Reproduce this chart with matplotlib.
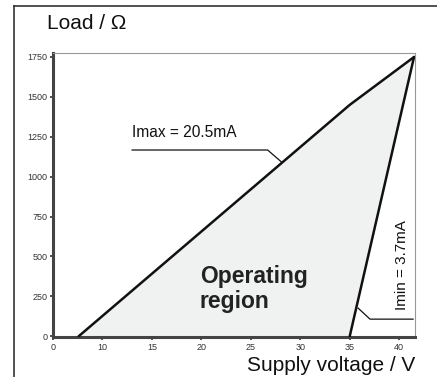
import matplotlib
matplotlib.use("Agg")
import matplotlib.pyplot as plt
from matplotlib.lines import Line2D

plt.rcParams['font.family'] = ['Liberation Sans', 'DejaVu Sans']

# Data
imax_v = [7.6, 35.0, 41.5]
imax_r = [0, 1450, 1750]
imin_v = [35.0, 41.5]
imin_r = [0, 1750]
x_ticks = [5, 10, 15, 20, 25, 30, 35, 40]
x_labels = ["0", "10", "15", "20", "25", "30", "35", "40"]
y_ticks = [0, 250, 500, 750, 1000, 1250, 1500, 1750]
y_labels = ["0", "250", "500", "750", "1000", "1250", "1500", "1750"]

fig = plt.figure(figsize=(4.37, 3.77), dpi=100)
ax = fig.add_axes([0.1213, 0.1048, 0.9497 - 0.1213, 0.8594 - 0.1048])
ax.set_xlim(5, 41.6)
ax.set_ylim(-8, 1775)

# fill operating region
poly_x = imax_v + imin_v[::-1]
poly_y = imax_r + imin_r[::-1]
ax.fill(poly_x, poly_y, color='#f0f1f1', zorder=1, lw=0)
ax.plot(imax_v, imax_r, color='#111111', lw=1.8, zorder=3, solid_capstyle='round')
ax.plot(imin_v, imin_r, color='#111111', lw=1.8, zorder=3, solid_capstyle='round')

# leader lines
ax.plot([13.0, 26.7, 28.1], [1167, 1167, 1092], color='#111111', lw=0.9, zorder=2)
ax.plot([35.85, 37.05, 41.4], [176, 107, 107], color='#111111', lw=0.9, zorder=2)

ax.text(13.0, 1250, "Imax = 20.5mA", fontsize=11.2, color='#111111', ha='left', va='baseline')
ax.text(40.25, 445, "Imin = 3.7mA", fontsize=11.0, color='#111111', rotation=90,
        ha='center', va='center')
ax.text(19.85, 332, "Operating", fontsize=16.5, fontweight='bold', color='#222222',
        ha='left', va='baseline')
ax.text(19.85, 176, "region", fontsize=16.5, fontweight='bold', color='#222222',
        ha='left', va='baseline')

# axes styling
for s in ['left', 'bottom']:
    ax.spines[s].set_linewidth(2.2)
    ax.spines[s].set_color('#444444')
for s in ['top', 'right']:
    ax.spines[s].set_linewidth(0.8)
    ax.spines[s].set_color('#999999')
ax.set_xticks(x_ticks)
ax.set_xticklabels(x_labels)
ax.set_yticks(y_ticks)
ax.set_yticklabels(y_labels)
ax.tick_params(axis='both', direction='out', length=2.5, width=1.2, color='#333333',
               labelsize=6.5, labelcolor='#333333', pad=1.5)

# outer frame (left and top)
fig.add_artist(Line2D([14 / 437, 14 / 437], [0, 1 - 6 / 377], transform=fig.transFigure,
                      color='#333333', lw=1.2))
fig.add_artist(Line2D([14 / 437, 1], [1 - 6 / 377, 1 - 6 / 377], transform=fig.transFigure,
                      color='#333333', lw=1.2))

fig.text(47 / 437, 1 - 29 / 377, "Load / \u03a9", fontsize=15, color='#111111',
         ha='left', va='baseline')
fig.text(247 / 437, 1 - 371 / 377, "Supply voltage / V", fontsize=15, color='#111111',
         ha='left', va='baseline')

fig.savefig("out.png", dpi=100)
